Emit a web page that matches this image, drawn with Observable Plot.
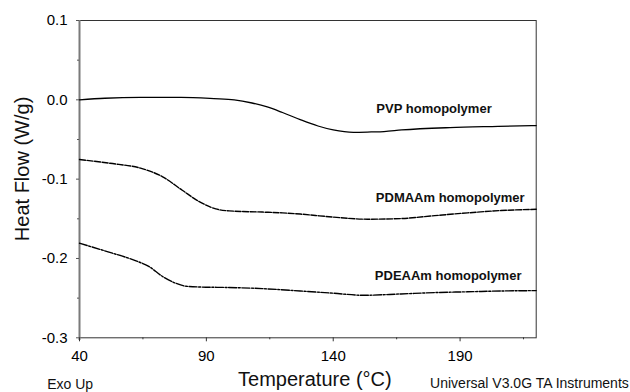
<!DOCTYPE html>
<html>
<head>
<meta charset="utf-8">
<script src="https://cdn.jsdelivr.net/npm/d3@7"></script>
<script src="https://cdn.jsdelivr.net/npm/@observablehq/plot@0.6"></script>
<style>
  html, body { margin: 0; padding: 0; background: white; }
</style>
</head>
<body>
<div id="chart"></div>
<script>
// ---- Data ----
const pvpTemp = [40, 50, 64, 80, 93, 101, 108, 114, 120, 127, 134, 140, 148, 155, 160, 167, 186, 205, 220];
const pvpFlow = [0.000, 0.002, 0.003, 0.003, 0.0015, 0.000, -0.004, -0.009, -0.016, -0.025, -0.033, -0.038, -0.041, -0.0405, -0.040, -0.038, -0.035, -0.0335, -0.0324];

const pdmaamTemp = [40, 52, 65, 72.6, 80.5, 87, 93.7, 99, 112, 120, 127, 133, 140, 153.5, 166.7, 180, 193, 206, 220];
const pdmaamFlow = [-0.0753, -0.080, -0.087, -0.0967, -0.114, -0.128, -0.1375, -0.140, -0.1415, -0.1425, -0.1440, -0.1458, -0.1478, -0.1505, -0.1497, -0.146, -0.1425, -0.1396, -0.138];

const pdeaamTemp = [40, 51.6, 62, 67.3, 72.6, 77.9, 82, 90, 97.6, 112, 127, 140, 152, 166.7, 180, 193, 206, 220];
const pdeaamFlow = [-0.1808, -0.192, -0.2027, -0.210, -0.2224, -0.2312, -0.235, -0.2362, -0.2365, -0.238, -0.241, -0.2438, -0.2464, -0.2447, -0.243, -0.242, -0.241, -0.2405];

const seriesNames = ["PVP homopolymer", "PDMAAm homopolymer", "PDEAAm homopolymer"];
const labelTemp = [157, 156.8, 156.4];
const labelFlow = [-0.0119, -0.1232, -0.2216];

const xMajorTicks = [40, 90, 140, 190];
const xMinorTicks = [65, 115, 165, 215];
const yMajorTicks = [-0.3, -0.2, -0.1, 0.0, 0.1];
const yMinorTicks = [-0.25, -0.15, -0.05, 0.05];

const xTitle = "Temperature (°C)";
const yTitle = "Heat Flow (W/g)";
const leftNote = "Exo Up";
const rightNote = "Universal V3.0G TA Instruments";

// ---- Build tables ----
const toRows = (T, V) => T.map((t, i) => ({t, v: V[i]}));
const pvp = toRows(pvpTemp, pvpFlow);
const pdmaam = toRows(pdmaamTemp, pdmaamFlow);
const pdeaam = toRows(pdeaamTemp, pdeaamFlow);
const labels = seriesNames.map((name, i) => ({name, t: labelTemp[i], v: labelFlow[i]}));

const font = "'Liberation Sans', Arial, Helvetica, sans-serif";

const chart = Plot.plot({
  width: 630,
  height: 392,
  marginLeft: 79,
  marginRight: 94.3,
  marginTop: 20,
  marginBottom: 54.7,
  style: {fontFamily: font, background: "white", color: "black", overflow: "visible"},
  x: {domain: [40, 220]},
  y: {domain: [-0.3, 0.1]},
  marks: [
    Plot.frame({stroke: "#333", strokeWidth: 1}),
    Plot.ruleX([40], {y1: -0.3035, y2: 0.1, stroke: "#7a7a7a", strokeWidth: 2}),
    Plot.axisX({ticks: xMajorTicks, tickSize: 4, tickPadding: 9, fontSize: 15, label: null, stroke: "#333", tickFormat: d => String(d)}),
    Plot.axisX({ticks: xMinorTicks, tickSize: 2, text: null, label: null, stroke: "#333"}),
    Plot.axisY({ticks: yMajorTicks, tickSize: 3, tickPadding: 9, fontSize: 15, label: null, stroke: "#555", tickFormat: d => d.toFixed(1)}),
    Plot.axisY({ticks: yMinorTicks, tickSize: 2, text: null, label: null, stroke: "#555"}),
    Plot.line(pvp, {x: "t", y: "v", curve: "monotone-x", stroke: "black", strokeWidth: 1.3}),
    Plot.line(pdmaam, {x: "t", y: "v", curve: "monotone-x", stroke: "black", strokeWidth: 1.4, strokeDasharray: "6,1.6"}),
    Plot.line(pdeaam, {x: "t", y: "v", curve: "monotone-x", stroke: "black", strokeWidth: 1.4, strokeDasharray: "8,1.6,2,1.6"}),
    Plot.text(labels, {x: "t", y: "v", text: "name", textAnchor: "start", fontWeight: "bold", fontSize: 13, fill: "#111"}),
    Plot.text([yTitle], {text: d => d, frameAnchor: "left", rotate: -90, dx: -57, dy: 62, fontSize: 20, fill: "#111"}),
    Plot.text([xTitle], {text: d => d, frameAnchor: "bottom", dx: 7, dy: 48.5, fontSize: 20, fill: "#111"}),
    Plot.text([leftNote], {text: d => d, frameAnchor: "bottom-left", textAnchor: "start", dx: -32.3, dy: 51, fontSize: 14, fill: "#111"}),
    Plot.text([rightNote], {text: d => d, frameAnchor: "bottom-right", textAnchor: "end", dx: 92.6, dy: 50.5, fontSize: 14, fill: "#111"})
  ]
});
document.getElementById("chart").appendChild(chart);
</script>
</body>
</html>
